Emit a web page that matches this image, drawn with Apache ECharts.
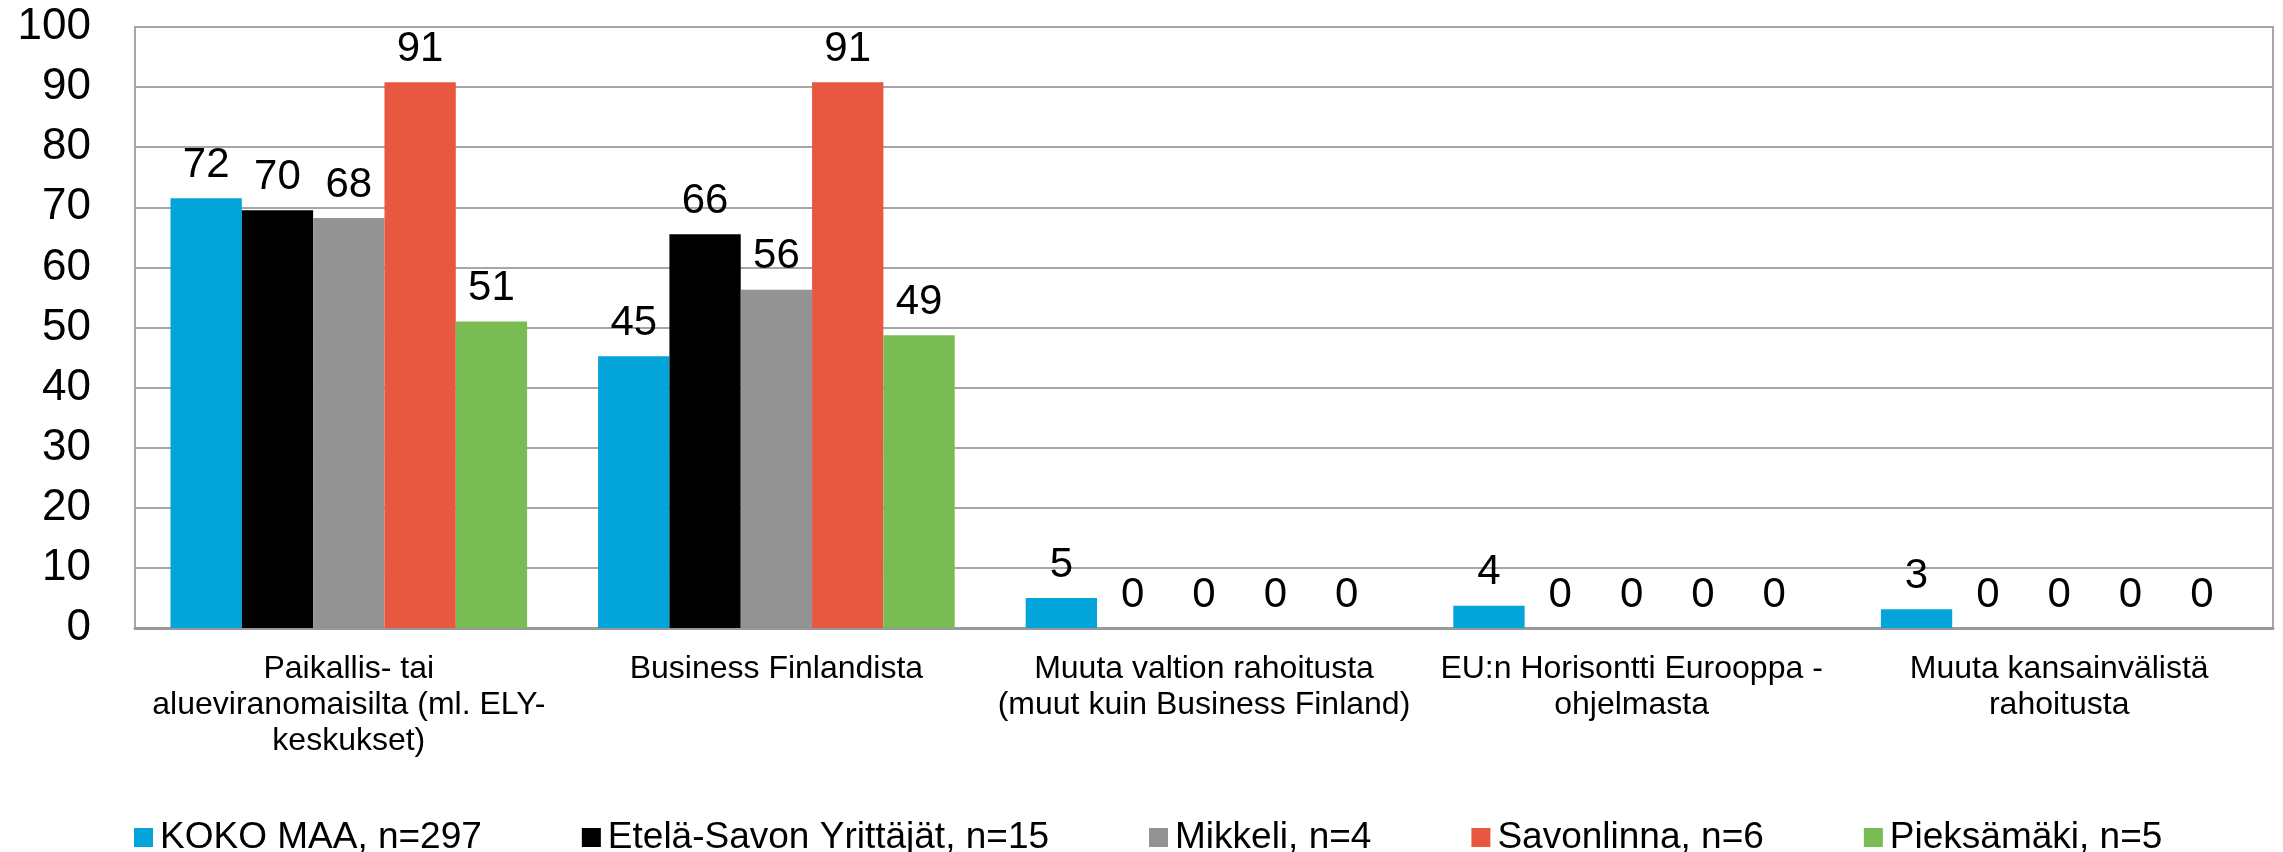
<!DOCTYPE html>
<html>
<head>
<meta charset="utf-8">
<script src="https://cdn.jsdelivr.net/npm/echarts@6/dist/echarts.min.js"></script>
<style>
    html, body { margin: 0; padding: 0; background: #fff; }
    #chart { width: 2283px; height: 852px; }
</style>
</head>
<body>
<div id="chart"></div>
<script>
    // kategoriat (rivinvaihdot kuten alkuperäisessä)
    var categories = [
        'Paikallis- tai\nalueviranomaisilta (ml. ELY-\nkeskukset)',
        'Business Finlandista',
        'Muuta valtion rahoitusta\n(muut kuin Business Finland)',
        'EU:n Horisontti Eurooppa -\nohjelmasta',
        'Muuta kansainvälistä\nrahoitusta'
    ];
    var seriesNames = ['KOKO MAA, n=297', 'Etelä-Savon Yrittäjät, n=15', 'Mikkeli, n=4', 'Savonlinna, n=6', 'Pieksämäki, n=5'];
    var kokoMaa = [71.5, 45.2, 5.0, 3.7, 3.1];
    var etelaSavo = [69.5, 65.5, 0, 0, 0];
    var mikkeli = [68.2, 56.3, 0, 0, 0];
    var savonlinna = [90.8, 90.8, 0, 0, 0];
    var pieksamaki = [51.0, 48.7, 0, 0, 0];
    var yTicks = [0, 100, 10];

    var colors = ['#02A4DA', '#000000', '#939393', '#E8573F', '#79BC53'];
    var font = 'Liberation Sans, Arial, sans-serif';

    var chart = echarts.init(document.getElementById('chart'));

    function bar(name, data) {
        return {
            name: name,
            type: 'bar',
            barGap: 0,
            barCategoryGap: '16.6%',
            data: data,
            label: {
                show: true,
                position: 'top',
                distance: 12,
                fontSize: 42,
                fontFamily: font,
                color: '#000',
                formatter: function (p) { return Math.round(p.value); }
            }
        };
    }

    var option = {
        animation: false,
        color: colors,
        grid: {
            left: 135,
            right: 10,
            top: 27,
            bottom: 224,
            containLabel: false,
            outerBoundsMode: 'none',
            show: true,
            borderColor: '#a6a6a6',
            borderWidth: 2
        },
        legend: {
            data: seriesNames,
            left: 129,
            top: 814,
            icon: 'rect',
            itemWidth: 19,
            itemHeight: 19,
            itemGap: 100,
            textStyle: {
                fontSize: 37,
                fontFamily: font,
                color: '#000',
                padding: [0, 0, 0, 2]
            }
        },
        xAxis: {
            type: 'category',
            data: categories,
            axisTick: { show: false },
            axisLine: { lineStyle: { color: '#999', width: 3 } },
            axisLabel: {
                interval: 0,
                margin: 23,
                fontSize: 32,
                lineHeight: 36,
                fontFamily: font,
                color: '#000'
            }
        },
        yAxis: {
            type: 'value',
            min: yTicks[0],
            max: yTicks[1],
            interval: yTicks[2],
            axisLine: { show: true, lineStyle: { color: '#a6a6a6', width: 2 } },
            axisTick: { show: false },
            splitLine: { lineStyle: { color: '#a6a6a6', width: 2 } },
            axisLabel: {
                margin: 44,
                fontSize: 44,
                fontFamily: font,
                color: '#000'
            }
        },
        series: [
            bar(seriesNames[0], kokoMaa),
            bar(seriesNames[1], etelaSavo),
            bar(seriesNames[2], mikkeli),
            bar(seriesNames[3], savonlinna),
            bar(seriesNames[4], pieksamaki)
        ]
    };

    chart.setOption(option);
</script>
</body>
</html>
